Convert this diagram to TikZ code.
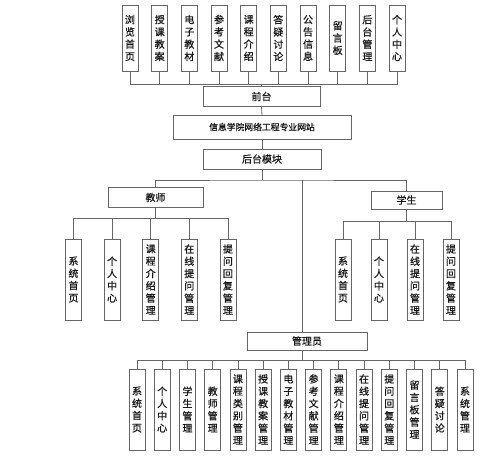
\documentclass[tikz,border=0pt]{standalone}
\usepackage{fontspec}
\setmainfont{Noto Sans CJK SC}[FakeBold=0.8]
\begin{document}
\begin{tikzpicture}[x=1pt,y=-1pt,
  every node/.style={inner sep=0pt, outer sep=0pt},
  box/.style={draw=black!60, line width=0.8pt, fill=white, font=\fontsize{10}{12.3}\selectfont, text=black!90},
  vbox/.style={box, minimum width=16, align=center},
  topbox/.style={vbox, minimum height=66},
  lowbox/.style={vbox, minimum height=81},
  hbox/.style={box, minimum height=20},
  conn/.style={draw=black!60, line width=0.8pt}]
\useasboundingbox (0,0) rectangle (499,457);

% top row
\foreach \t [count=\i] in {{浏\\览\\首\\页},{授\\课\\教\\案},{电\\子\\教\\材},{参\\考\\文\\献},{课\\程\\介\\绍},{答\\疑\\讨\\论},{公\\告\\信\\息},{留\\言\\板},{后\\台\\管\\理},{个\\人\\中\\心}}
  \node[topbox] (t\i) at ({130+(\i-1)*29.67},38) {\t};

\node[hbox, minimum width=117] (qt) at (261.5,96.5) {前台};
\node[hbox, minimum width=178, minimum height=24, font=\fontsize{8.8}{10}\selectfont] (web) at (262,127) {信息学院网络工程专业网站};
\node[hbox, minimum width=118] (hb) at (262,159) {后台模块};

\coordinate (bus0) at (261.5,84);
\foreach \i in {1,...,10} \draw[conn] (t\i.south) |- (bus0);
\draw[conn] (qt.north) -- (bus0);
\draw[conn] (qt.south) -- (web.north);
\draw[conn] (web.south) -- (hb.north);

\node[hbox, minimum width=95] (js) at (155.5,197.5) {教师};
\node[hbox, minimum width=71, minimum height=18] (xs) at (406.5,200) {学生};
\node[hbox, minimum width=120, minimum height=18] (gl) at (307,341) {管理员};

\coordinate (bus1) at (262,180);
\draw[conn] (hb.south) -- (bus1);
\draw[conn] (js.north) |- (bus1) -| (xs.north);
\draw[conn] ([xshift=-5pt]gl.north) -- ([xshift=-5pt]gl.north |- bus1);

% teacher children
\foreach \t [count=\i] in {{系\\统\\首\\页},{个\\人\\中\\心},{课\\程\\介\\绍\\管\\理},{在\\线\\提\\问\\管\\理},{提\\问\\回\\复\\管\\理}}
  \node[lowbox] (j\i) at ({73.5+(\i-1)*38.6},279.5) {\t};
\coordinate (bus2) at (155.5,218);
\draw[conn] (js.south) -- (bus2);
\foreach \i in {1,...,5} \draw[conn] (j\i.north) |- (bus2);

% student children
\foreach \t [count=\i] in {{系\\统\\首\\页},{个\\人\\中\\心},{在\\线\\提\\问\\管\\理},{提\\问\\回\\复\\管\\理}}
  \node[lowbox] (s\i) at ({343+(\i-1)*36},279.5) {\t};
\coordinate (bus3) at (406.5,221);
\draw[conn] (xs.south) -- (bus3);
\foreach \i in {1,...,4} \draw[conn] (s\i.north) |- (bus3);

% admin children
\foreach \t [count=\i] in {{系\\统\\首\\页},{个\\人\\中\\心},{学\\生\\管\\理},{教\\师\\管\\理},{课\\程\\类\\别\\管\\理},{授\\课\\教\\案\\管\\理},{电\\子\\教\\材\\管\\理},{参\\考\\文\\献\\管\\理},{课\\程\\介\\绍\\管\\理},{在\\线\\提\\问\\管\\理},{提\\问\\回\\复\\管\\理},{留\\言\\板\\管\\理},{答\\疑\\讨\\论},{系\\统\\管\\理}}
  \node[lowbox] (a\i) at ({137+(\i-1)*25.23},409.5) {\t};
\coordinate (bus4) at (302,360);
\draw[conn] ([xshift=-5pt]gl.south) -- (bus4);
\foreach \i in {1,...,14} \draw[conn] (a\i.north) |- (bus4);
\end{tikzpicture}
\end{document}
